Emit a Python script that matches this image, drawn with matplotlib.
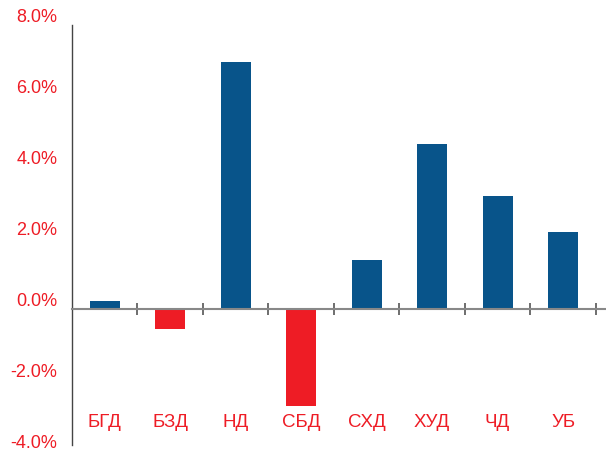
import numpy as np
import matplotlib.pyplot as plt
from matplotlib.transforms import ScaledTranslation

categories = ["БГД", "БЗД", "НД", "СБД", "СХД", "ХУД", "ЧД", "УБ"]
values = [0.22, -0.56, 6.96, -2.73, 1.38, 4.65, 3.18, 2.17]
y_ticks = [-4, -2, 0, 2, 4, 6, 8]

blue = "#08548a"
red = "#ee1c25"

plt.rcParams['font.family'] = ['Liberation Sans', 'DejaVu Sans']

fig = plt.figure(figsize=(6.06, 4.54), dpi=100)
ax = fig.add_axes([72 / 606, 1 - 451 / 454, 533 / 606, 426 / 454])

x = np.arange(len(categories))
colors = [blue if v >= 0 else red for v in values]
ax.bar(x, values, width=0.46, color=colors, zorder=2)

ax.set_ylim(-4, 8)
ax.set_xlim(-0.5, 7.64)

ax.set_yticks(y_ticks)
ax.set_yticklabels([f"{t:.1f}%" for t in y_ticks], color=red, fontsize=13)
ax.tick_params(axis='y', length=0, pad=10.5)
for lab in ax.get_yticklabels():
    lab.set_transform(lab.get_transform() + ScaledTranslation(0, 7 / 72, fig.dpi_scale_trans))

ax.set_xticks(np.arange(len(categories)) + 0.5)
ax.set_xticklabels([])
ax.tick_params(axis='x', direction='inout', length=9, width=1.2, color="#555555")

for xi, name in zip(x, categories):
    ax.text(xi, -3.21, name, ha='center', va='center', color=red, fontsize=13.5)

ax.spines['top'].set_visible(False)
ax.spines['right'].set_visible(False)
ax.spines['bottom'].set_position(('data', 0))
ax.spines['bottom'].set_color("#888888")
ax.spines['bottom'].set_linewidth(1.5)
ax.spines['left'].set_color("#444444")
ax.spines['left'].set_linewidth(1.0)
ax.spines['left'].set_bounds(-3.83, 8)

fig.savefig("out.png", dpi=100)
